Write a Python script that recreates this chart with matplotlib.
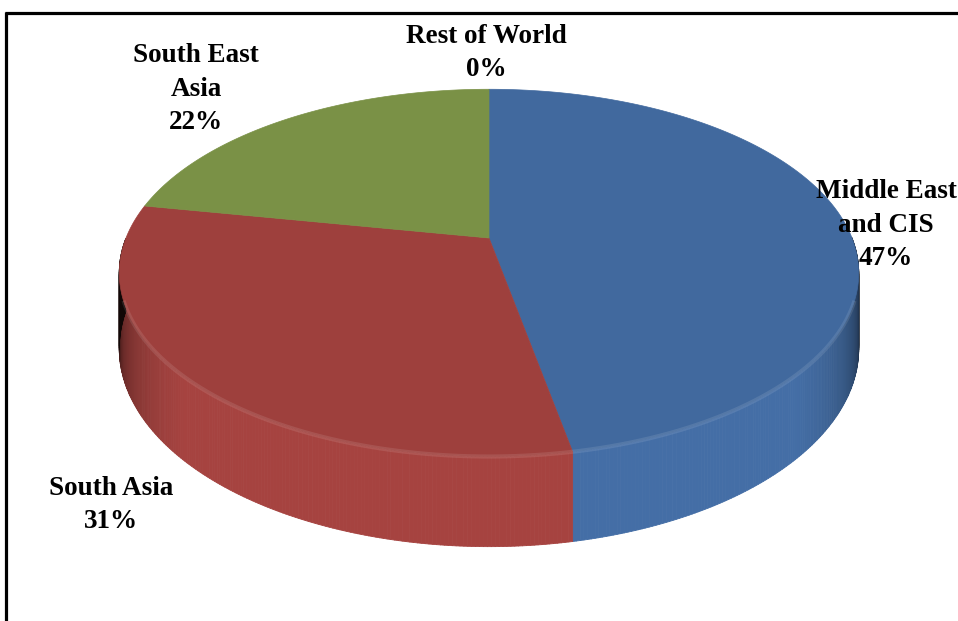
import numpy as np
import matplotlib.pyplot as plt
from matplotlib.collections import PolyCollection
from matplotlib.colors import to_rgb

regions = ['Middle East\nand CIS', 'South Asia', 'South East\nAsia', 'Rest of World']
shares = [47, 31, 22, 0]
colors = ['#41699E', '#9E403D', '#7A9146', '#6B5B95']
label_pos = [(886, 225), (111, 505), (196, 89), (486, 53)]

# perspective pie geometry (pixels)
cx, cy = 489, 238
A, B, p, D = 363, 177, 0.19, 73


def proj(theta_deg, h=0.0):
    t = np.radians(theta_deg)
    X, Z = np.cos(t), np.sin(t)
    w = 1 / (1 + p * Z)
    return cx + A * X * w, cy - B * Z * w + h * D * w


fig = plt.figure(figsize=(9.58, 6.21), dpi=100)
ax = fig.add_axes([0, 0, 1, 1])
ax.set_xlim(0, 958)
ax.set_ylim(621, 0)
ax.axis('off')

fracs = np.array(shares) / sum(shares)
starts = 90 - 360 * np.concatenate([[0], np.cumsum(fracs)[:-1]])
ends = starts - 360 * fracs

# side walls
polys, fcs = [], []
for s, e, c in zip(starts, ends, colors):
    if s == e:
        continue
    th = np.linspace(s, e, int(abs(s - e)) * 2 + 2)
    base = np.array(to_rgb(c))
    for a0, a1 in zip(th[:-1], th[1:]):
        m = np.radians((a0 + a1) / 2)
        if np.sin(m) >= 0:
            continue
        f = np.clip((-np.sin(m) - p) / (1 - p), 0, 1)
        shade = min(1.0, 0.1 + 1.1 * f ** 0.4)
        col = np.clip(base * shade * 1.05, 0, 1)
        pts = [proj(a0), proj(a1), proj(a1, 1), proj(a0, 1)]
        polys.append(pts)
        fcs.append(col)
ax.add_collection(PolyCollection(polys, facecolors=fcs, edgecolors=fcs, linewidths=0.6))

# top faces
for s, e, c in zip(starts, ends, colors):
    if s == e:
        continue
    th = np.linspace(s, e, 300)
    xs, ys = proj(th)
    ax.fill(np.r_[cx, xs], np.r_[cy, ys], color=c, lw=0.5, ec=c, zorder=3)

# bevel highlight along front edge
th = np.linspace(200, 340, 200)
xs, ys = proj(th)
ax.plot(xs, ys, color='white', alpha=0.1, lw=3, zorder=4)

for name, v, (x, y) in zip(regions, shares, label_pos):
    ax.text(x, y, f'{name}\n{v}%', ha='center', va='center', fontsize=19.5,
            family='Liberation Serif', weight='bold', linespacing=1.45, zorder=5)

# frame
ax.plot([5, 958], [13, 13], color='black', lw=2.3, solid_capstyle='butt')
ax.plot([6, 6], [12, 621], color='black', lw=2.3, solid_capstyle='butt')

fig.savefig('out.png', dpi=100)
